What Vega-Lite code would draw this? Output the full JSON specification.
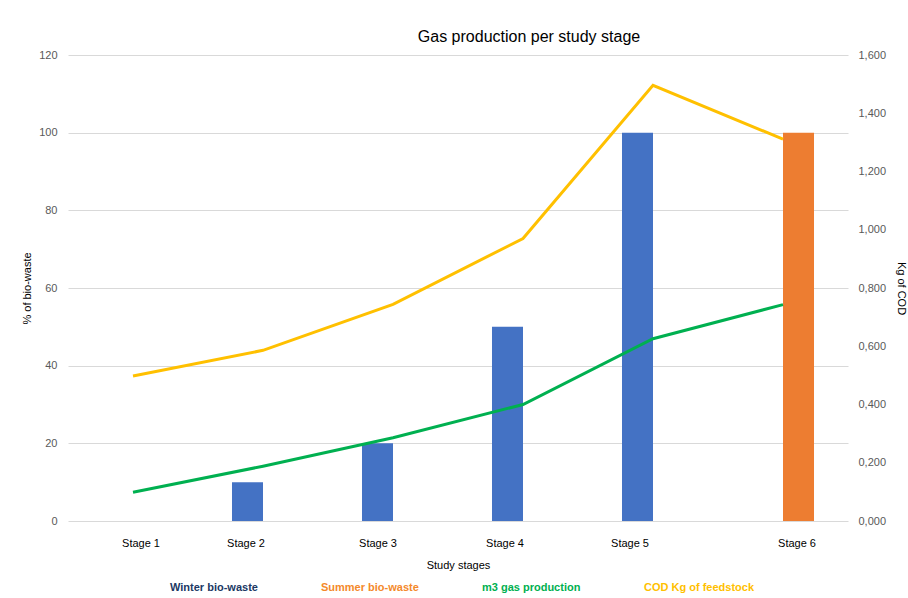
{
  "$schema": "https://vega.github.io/schema/vega-lite/v6.json",
  "width": 780,
  "height": 466,
  "autosize": "none",
  "padding": {"left": 68, "top": 55, "right": 60, "bottom": 77},
  "background": "white",
  "config": {"font": "Liberation Sans", "view": {"stroke": null}},
  "title": {"text": "Gas production per study stage", "fontSize": 16, "fontWeight": "normal", "color": "#000000", "dx": 71, "offset": 4, "font": "Liberation Sans"},
  "datasets": {
    "bars": [
      {"stage": "Stage 1", "series": "Winter bio-waste", "value": 0},
      {"stage": "Stage 1", "series": "Summer bio-waste", "value": 0},
      {"stage": "Stage 2", "series": "Winter bio-waste", "value": 10},
      {"stage": "Stage 2", "series": "Summer bio-waste", "value": 0},
      {"stage": "Stage 3", "series": "Winter bio-waste", "value": 20},
      {"stage": "Stage 3", "series": "Summer bio-waste", "value": 0},
      {"stage": "Stage 4", "series": "Winter bio-waste", "value": 50},
      {"stage": "Stage 4", "series": "Summer bio-waste", "value": 0},
      {"stage": "Stage 5", "series": "Winter bio-waste", "value": 100},
      {"stage": "Stage 5", "series": "Summer bio-waste", "value": 0},
      {"stage": "Stage 6", "series": "Winter bio-waste", "value": 0},
      {"stage": "Stage 6", "series": "Summer bio-waste", "value": 100}
    ],
    "lines": [
      {"stage": "Stage 1", "series": "m3 gas production", "value": 0.099},
      {"stage": "Stage 2", "series": "m3 gas production", "value": 0.188},
      {"stage": "Stage 3", "series": "m3 gas production", "value": 0.286},
      {"stage": "Stage 4", "series": "m3 gas production", "value": 0.4},
      {"stage": "Stage 5", "series": "m3 gas production", "value": 0.626},
      {"stage": "Stage 6", "series": "m3 gas production", "value": 0.743},
      {"stage": "Stage 1", "series": "COD Kg of feedstock", "value": 0.498},
      {"stage": "Stage 2", "series": "COD Kg of feedstock", "value": 0.586},
      {"stage": "Stage 3", "series": "COD Kg of feedstock", "value": 0.744},
      {"stage": "Stage 4", "series": "COD Kg of feedstock", "value": 0.97},
      {"stage": "Stage 5", "series": "COD Kg of feedstock", "value": 1.496},
      {"stage": "Stage 6", "series": "COD Kg of feedstock", "value": 1.311}
    ]
  },
  "layer": [
    {
      "data": {"name": "bars"},
      "mark": {"type": "bar"},
      "encoding": {
        "x": {
          "field": "stage", "type": "nominal", "title": "Study stages",
          "scale": {"paddingInner": 0.523, "paddingOuter": 0.2615},
          "axis": {
            "labelAngle": 0, "domain": false, "ticks": false, "grid": false,
            "labelPadding": 16, "labelFontSize": 11, "labelColor": "#000000",
            "titleFontSize": 11, "titleFontWeight": "normal", "titleColor": "#000000", "titlePadding": 11,
            "labelOffset": {
              "condition": [
                {"test": "datum.value=='Stage 1'", "value": 8},
                {"test": "datum.value=='Stage 2'", "value": -17},
                {"test": "datum.value=='Stage 3'", "value": -15},
                {"test": "datum.value=='Stage 4'", "value": -18},
                {"test": "datum.value=='Stage 5'", "value": -23}
              ],
              "value": 14
            }
          }
        },
        "xOffset": {"field": "series", "type": "nominal", "scale": {"domain": ["Winter bio-waste", "Summer bio-waste"]}},
        "y": {
          "field": "value", "type": "quantitative", "title": "% of bio-waste",
          "scale": {"domain": [0, 120]},
          "axis": {
            "values": [0, 20, 40, 60, 80, 100, 120], "domain": false, "ticks": false,
            "labelColor": "#595959", "labelFontSize": 11, "labelPadding": 11,
            "gridColor": "#D9D9D9", "gridWidth": 1,
            "titleFontSize": 11, "titleFontWeight": "normal", "titleColor": "#000000", "titlePadding": 6
          }
        },
        "color": {
          "field": "series", "type": "nominal",
          "scale": {"domain": ["Winter bio-waste", "Summer bio-waste", "m3 gas production", "COD Kg of feedstock"], "range": ["#4472C4", "#ED7D31", "#00B050", "#FFC000"]},
          "legend": {
            "orient": "none", "legendX": 91, "legendY": 527, "direction": "horizontal", "title": null,
            "symbolOpacity": 0, "symbolSize": 0, "symbolStrokeWidth": 0, "labelOffset": 0,
            "labelFontSize": 11, "labelFontWeight": "bold", "columnPadding": 52,
            "encode": {"labels": {"update": {"fill": {"signal": "datum.label=='Winter bio-waste'?'#203864':datum.label=='Summer bio-waste'?'#F4892B':datum.label=='m3 gas production'?'#00B050':'#FFC000'"}}}}
          }
        }
      }
    },
    {
      "data": {"name": "lines"},
      "mark": {"type": "line", "strokeWidth": 3},
      "encoding": {
        "x": {"field": "stage", "type": "nominal"},
        "y": {
          "field": "value", "type": "quantitative", "title": "Kg of COD",
          "scale": {"domain": [0, 1.6]},
          "axis": {
            "orient": "right", "values": [0, 0.2, 0.4, 0.6, 0.8, 1.0, 1.2, 1.4, 1.6],
            "labelExpr": "replace(format(datum.value, '.3f'), '.', ',')",
            "domain": false, "ticks": false, "grid": false,
            "labelColor": "#595959", "labelFontSize": 11, "labelPadding": 10,
            "titleFontSize": 11, "titleFontWeight": "normal", "titleColor": "#000000", "titlePadding": 10
          }
        },
        "color": {"field": "series", "type": "nominal"}
      }
    }
  ],
  "resolve": {"scale": {"y": "independent"}}
}
